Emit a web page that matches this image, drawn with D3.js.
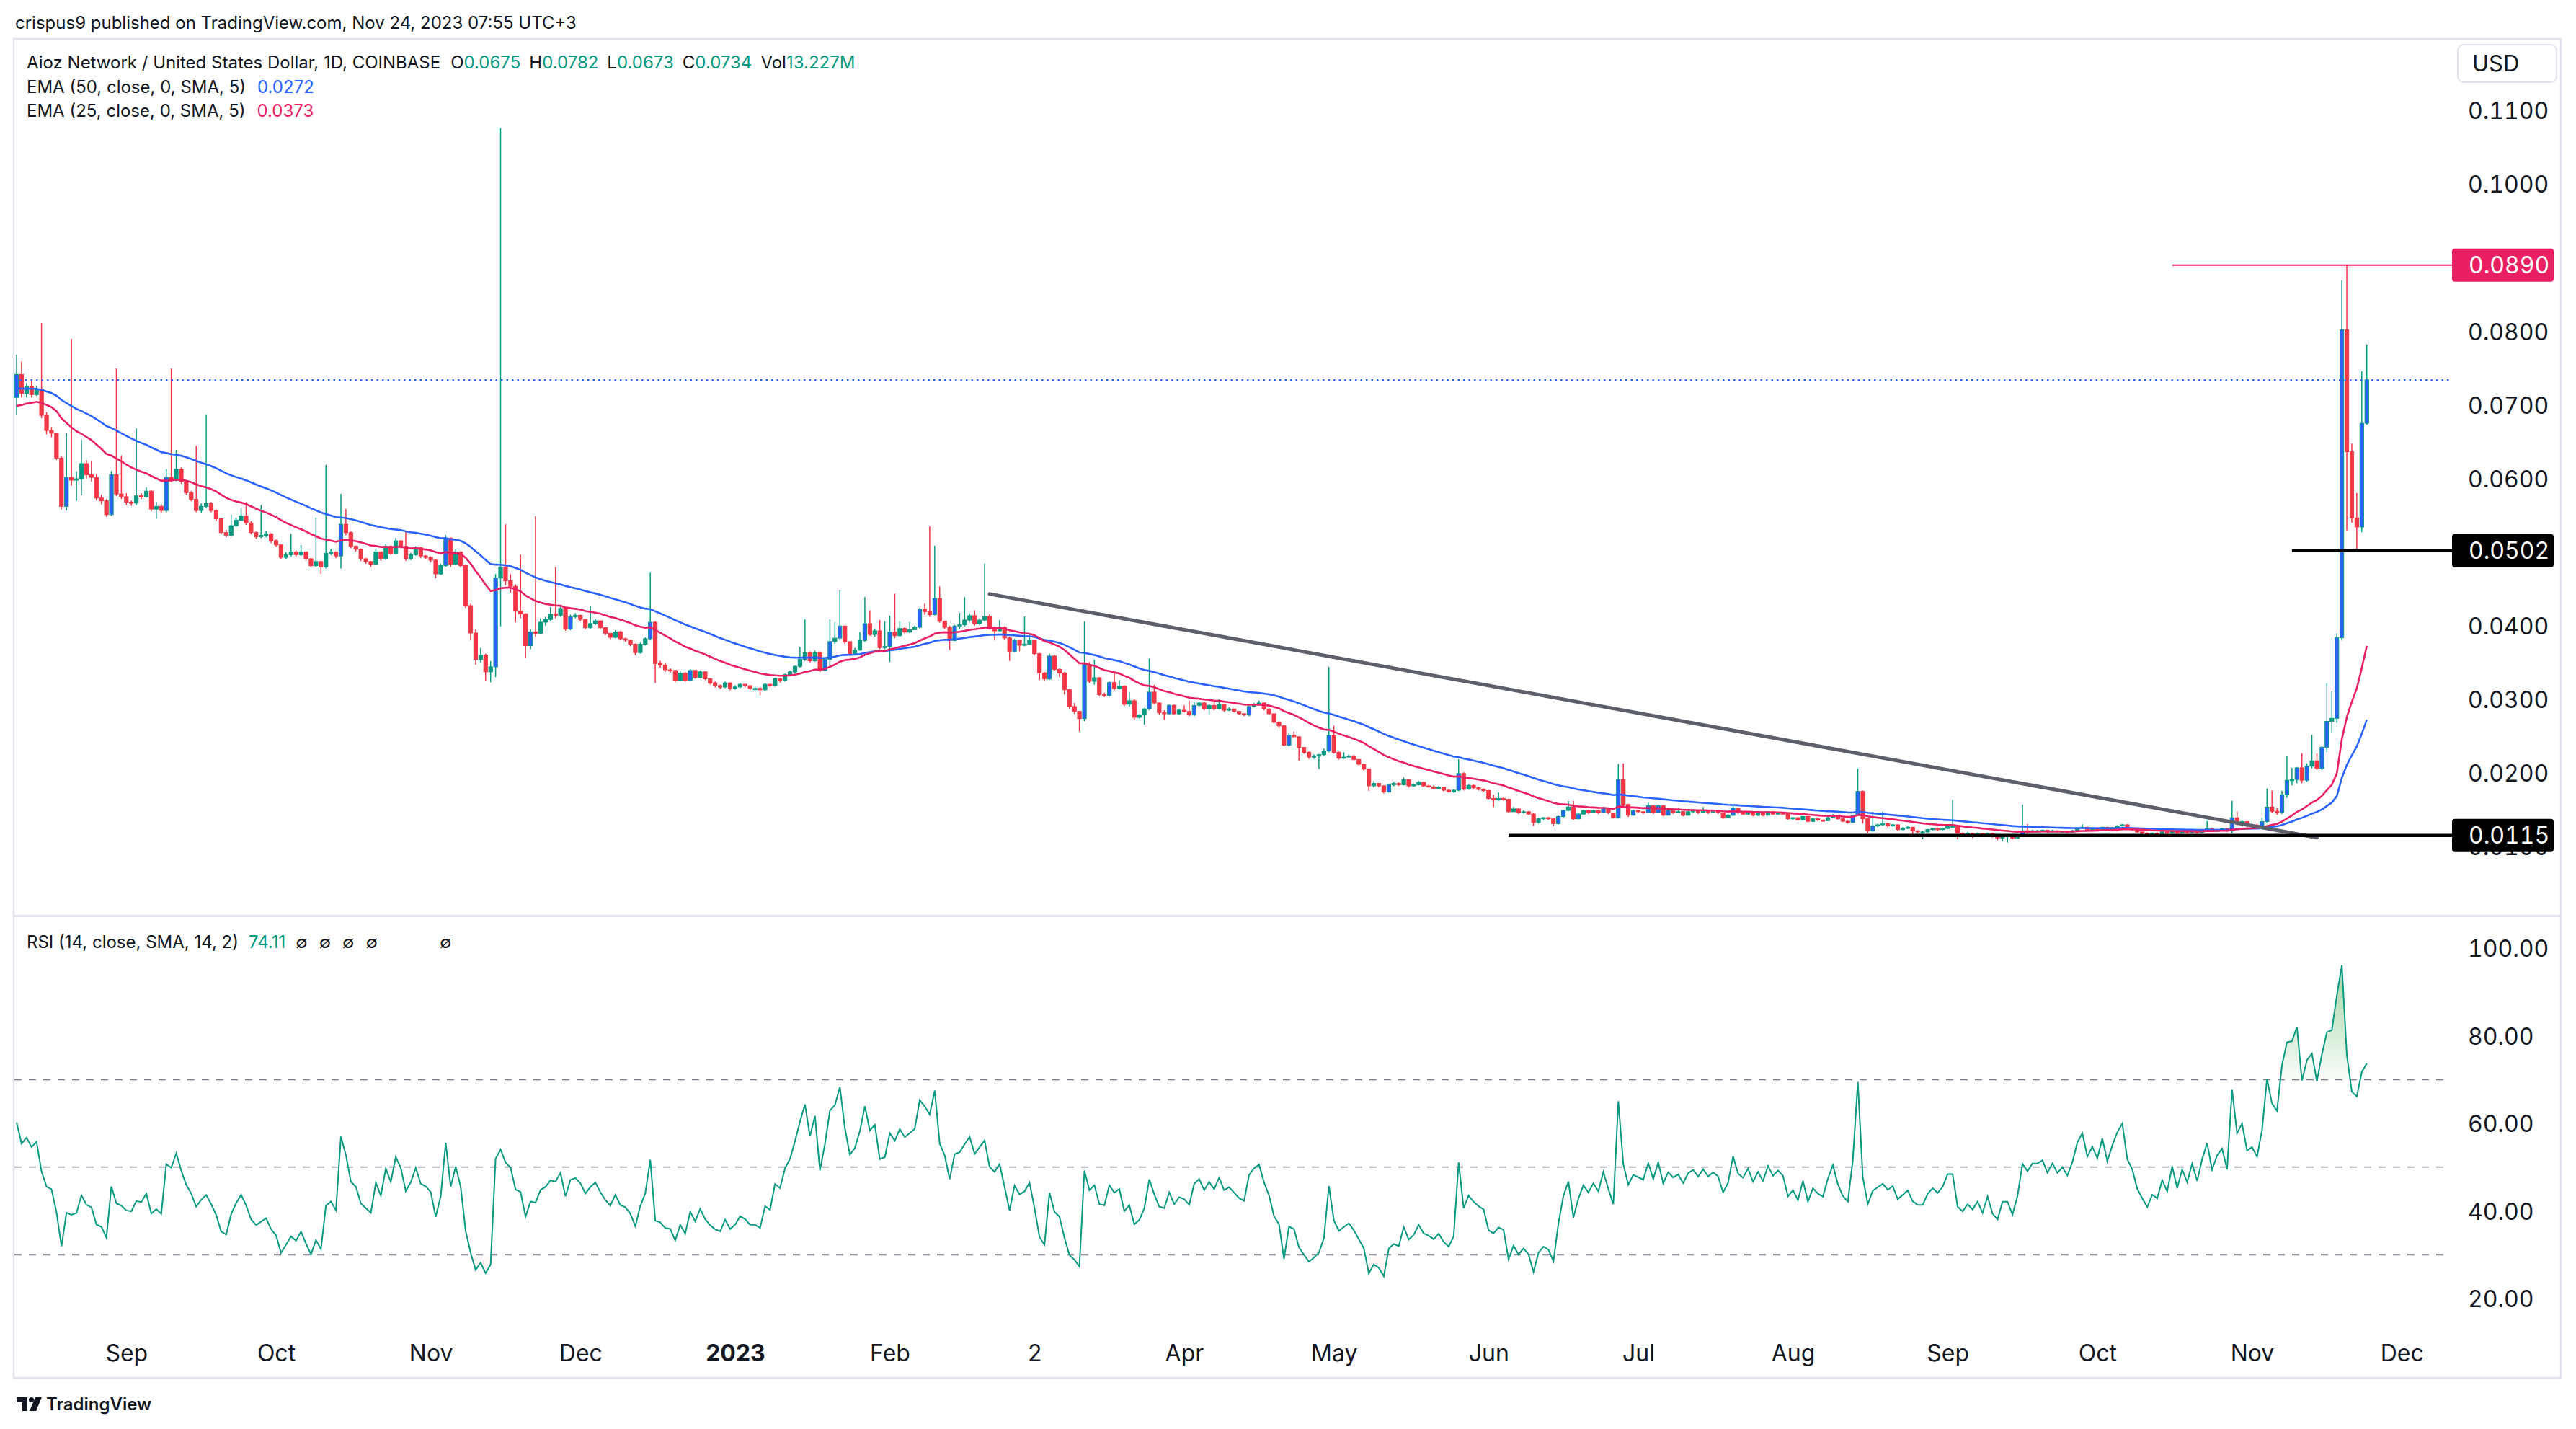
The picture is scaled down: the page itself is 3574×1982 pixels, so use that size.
<!DOCTYPE html>
<html><head><meta charset="utf-8">
<script src="https://cdn.jsdelivr.net/npm/d3@7"></script>
<style>html,body{margin:0;padding:0;background:#fff;}svg{display:block;}.tn{font-feature-settings:"tnum" 1;font-variant-numeric:tabular-nums;}</style>
</head><body>
<svg id="c" width="3574" height="1982"></svg>
<script>
// ===== DATA (prices in units of 0.00001 USD) =====
const startDate = "2022-08-10";
const firstOpen = 7102;
const closes = [7413,7158,7252,7140,7215,6858,6652,6615,6277,5621,
6015,5977,5996,6202,6052,6015,5734,5696,5509,6052,
5790,5752,5678,5666,5764,5752,5827,5584,5621,5565,
6015,5977,6127,5959,5809,5715,5565,5621,5659,5565,
5453,5265,5228,5359,5434,5490,5396,5265,5209,5228,
5246,5153,5097,4928,4965,5003,4965,5003,4909,4815,
4871,4797,4984,5003,4947,5378,5265,5078,5040,4909,
4871,4834,5003,4909,5078,4984,5153,5078,4909,4965,
5059,4947,4928,4890,4703,4815,5190,4834,5003,4815,
4272,3900,3541,3600,3372,3440,4647,4797,4609,4534,
4197,4159,3728,3916,3897,4047,4084,4159,4141,4234,
3953,4122,4141,4084,3972,4028,4065,3972,3897,3841,
3916,3822,3803,3747,3634,3747,3822,4047,3485,3466,
3400,3391,3259,3353,3259,3391,3297,3372,3278,3222,
3184,3166,3222,3147,3166,3203,3184,3147,3147,3128,
3203,3184,3278,3259,3334,3372,3447,3541,3634,3522,
3634,3391,3541,3784,3830,3995,3782,3619,3668,3799,
4027,3880,3930,3701,3717,3913,3864,3962,3913,3946,
3978,4223,4191,4150,4370,4060,3978,3799,3995,4011,
4076,4135,4027,4076,4125,3962,3930,3978,3832,3652,
3799,3733,3750,3799,3619,3358,3276,3587,3407,3358,
3129,2901,2835,2737,3472,3244,3293,3064,3050,3227,
3146,3178,2933,2980,2754,2786,2868,3097,2950,2819,
2803,2917,2803,2852,2835,2786,2917,2950,2868,2917,
2868,2933,2852,2868,2835,2803,2786,2901,2933,2950,
2868,2803,2688,2639,2378,2509,2490,2345,2280,2215,
2230,2247,2297,2509,2280,2198,2215,2231,2182,2117,
2051,1823,1856,1823,1741,1839,1856,1839,1905,1823,
1839,1872,1823,1810,1790,1805,1764,1740,1764,1991,
1780,1829,1797,1775,1760,1651,1634,1651,1640,1472,
1510,1456,1472,1440,1326,1375,1391,1375,1310,1407,
1490,1537,1375,1440,1488,1456,1488,1456,1521,1456,
1391,1910,1570,1424,1488,1472,1456,1553,1456,1553,
1424,1488,1456,1472,1424,1472,1488,1456,1488,1456,
1472,1456,1391,1424,1521,1456,1440,1472,1424,1456,
1424,1472,1440,1456,1440,1375,1391,1359,1407,1342,
1375,1359,1350,1391,1424,1375,1342,1326,1424,1748,
1375,1213,1278,1294,1310,1278,1294,1229,1245,1261,
1213,1197,1197,1229,1245,1229,1245,1278,1278,1180,
1164,1180,1164,1180,1148,1180,1132,1115,1148,1148,
1115,1148,1213,1197,1213,1213,1219,1197,1213,1197,
1206,1193,1213,1245,1261,1229,1245,1229,1261,1229,
1255,1278,1294,1245,1229,1197,1180,1164,1180,1174,
1197,1180,1213,1180,1206,1187,1213,1187,1219,1245,
1206,1229,1240,1210,1390,1310,1338,1281,1290,1270,
1338,1534,1478,1460,1702,1899,1910,2068,1900,2090,
2163,2060,2348,2700,2741,3836,8019,6363,5465,5341,
6750,7340];
const highs = [7683,7589,7300,7346,7260,8114,6900,6700,6620,6300,
6615,7897,6100,6529,6250,6240,6060,5780,5720,6100,
7496,6315,5800,5700,6679,5800,5880,5840,5680,5650,
6127,7496,6390,6150,5980,5830,6446,5660,6866,5680,
5580,5460,5300,5509,5470,5603,5678,5420,5280,5640,
5290,5260,5170,5090,5000,5246,5020,5097,5010,4920,
5471,4880,6184,5040,5010,5790,5584,5280,5090,5050,
4920,4880,5040,5010,5110,5090,5190,5160,5284,4990,
5080,5070,4960,4940,4900,4840,5230,5200,5040,5010,
4830,4300,3950,3700,3620,3520,4700,10760,5378,4700,
4560,4965,4170,3950,5490,4100,4120,4253,4797,4260,
4250,4150,4170,4150,4090,4272,4090,4070,3980,3900,
3940,3930,3840,3810,3760,3770,3840,4721,4060,3520,
3490,3420,3400,3380,3370,3410,3400,3390,3380,3290,
3240,3200,3240,3230,3190,3220,3210,3190,3170,3160,
3220,3210,3290,3290,3350,3390,3460,3709,4084,3650,
3660,3650,3560,4084,4044,4485,4000,3790,3700,3913,
4387,4207,3960,4076,4060,4135,4436,4060,3980,4044,
4000,4240,4300,5350,5089,4534,4070,4000,4010,4174,
4387,4160,4207,4100,4844,4158,3990,4076,3990,3850,
3820,3810,4125,3897,3810,3630,3370,3619,3600,3420,
3370,3140,2950,2840,4060,3505,3538,3300,3090,3240,
3374,3260,3190,3100,3000,2800,2880,3554,3195,2960,
2850,2930,2930,2870,2917,2982,2966,2970,2960,2930,
2982,2999,2940,2890,2870,2840,2810,2910,2950,2982,
2960,2880,2810,2700,2650,2541,2560,2500,2350,2290,
2250,2260,2330,3440,2640,2290,2280,2250,2240,2190,
2120,2060,1888,1860,1830,1850,1880,1870,1937,1910,
1850,1890,1880,1840,1830,1820,1800,1780,1775,2186,
2008,1850,1840,1810,1790,1770,1700,1732,1670,1650,
1537,1520,1490,1480,1450,1390,1400,1400,1380,1420,
1500,1618,1618,1450,1500,1495,1500,1495,1537,1525,
1460,2121,2128,1580,1500,1500,1480,1602,1560,1570,
1560,1500,1495,1490,1480,1480,1500,1495,1537,1500,
1490,1480,1460,1440,1570,1525,1465,1480,1475,1465,
1460,1480,1475,1465,1460,1445,1400,1395,1415,1410,
1385,1380,1365,1400,1440,1430,1380,1350,1430,2056,
1760,1380,1472,1310,1472,1320,1305,1300,1260,1275,
1265,1220,1215,1240,1255,1250,1255,1290,1634,1285,
1190,1195,1185,1190,1185,1190,1185,1140,1160,1160,
1155,1160,1570,1304,1225,1225,1230,1225,1225,1220,
1215,1210,1225,1260,1304,1270,1255,1261,1270,1265,
1265,1290,1304,1300,1255,1235,1200,1190,1190,1190,
1205,1200,1220,1215,1215,1210,1220,1215,1225,1342,
1250,1240,1250,1250,1620,1478,1350,1340,1310,1310,
1394,1787,1758,1520,1758,2235,2068,2080,2264,2130,
2517,2264,2360,3218,3106,3892,8693,8900,6475,5801,
7457,7820];
const lows = [6858,7100,7100,7100,7120,6820,6600,6560,6250,5580,
5565,5900,5696,5771,6000,5960,5700,5650,5480,5490,
5760,5720,5640,5630,5640,5720,5740,5550,5453,5530,
5540,5950,5960,5930,5780,5690,5540,5530,5600,5540,
5420,5240,5200,5210,5340,5420,5370,5240,5180,5190,
5200,5120,5070,4900,4900,4940,4940,4950,4880,4790,
4800,4703,4780,4960,4920,4778,5230,5050,5010,4880,
4840,4800,4820,4880,4890,4960,4970,5050,4880,4890,
4950,4920,4900,4860,4647,4690,4800,4800,4820,4790,
4240,3800,3470,3500,3250,3230,3300,3991,4550,4450,
4047,4100,3559,3680,3850,3880,4000,4060,4100,4120,
3930,3940,4100,4060,3950,3960,4010,3950,3870,3810,
3830,3800,3780,3720,3597,3620,3730,3800,3222,3430,
3370,3360,3230,3250,3240,3250,3280,3290,3260,3200,
3160,3140,3150,3120,3130,3150,3160,3120,3110,3053,
3110,3160,3170,3230,3240,3310,3350,3430,3520,3500,
3510,3370,3380,3450,3750,3800,3750,3603,3600,3660,
3780,3860,3850,3680,3680,3505,3830,3850,3890,3900,
3940,3960,4150,4120,4140,4040,3950,3668,3790,3960,
3990,4050,4000,4010,4060,3946,3799,3920,3810,3521,
3640,3652,3720,3740,3600,3260,3250,3260,3390,3300,
3064,2868,2800,2562,2700,3220,3200,3040,3030,3040,
3120,3130,2910,2900,2721,2740,2656,2850,2930,2790,
2720,2790,2790,2790,2820,2770,2770,2900,2850,2786,
2850,2860,2830,2840,2820,2790,2770,2770,2890,2920,
2850,2790,2670,2606,2360,2360,2470,2166,2260,2190,
2190,2052,2230,2280,2260,2180,2190,2200,2170,2100,
2030,1758,1800,1800,1720,1730,1820,1820,1830,1800,
1810,1830,1810,1800,1780,1780,1750,1730,1730,1750,
1760,1770,1780,1760,1740,1640,1537,1620,1620,1456,
1470,1440,1445,1430,1278,1310,1360,1360,1278,1300,
1390,1480,1360,1370,1430,1440,1450,1440,1450,1440,
1380,1380,1550,1400,1420,1460,1440,1450,1440,1450,
1410,1420,1440,1450,1410,1420,1460,1440,1450,1440,
1450,1440,1375,1380,1410,1440,1430,1435,1410,1415,
1410,1420,1430,1430,1430,1365,1360,1350,1350,1330,
1335,1345,1340,1345,1385,1365,1330,1310,1320,1420,
1310,1180,1200,1260,1280,1260,1270,1215,1220,1235,
1164,1180,1099,1190,1215,1215,1220,1235,1260,1099,
1140,1155,1115,1155,1135,1140,1120,1083,1067,1051,
1100,1105,1140,1180,1190,1195,1200,1185,1190,1185,
1190,1180,1190,1205,1240,1215,1220,1215,1225,1215,
1225,1245,1270,1230,1215,1185,1132,1150,1160,1160,
1165,1170,1175,1170,1175,1175,1180,1175,1180,1210,
1195,1200,1220,1195,1180,1280,1290,1260,1260,1250,
1260,1320,1450,1430,1440,1660,1830,1860,1860,1880,
2060,2040,2040,2280,2550,2680,3800,5296,5400,5027,
5268,6730];
// indicator state just before the first visible bar
const ema50Start = 7215, ema25Start = 6950;
const rsiAvgGainStart = 120, rsiAvgLossStart = 95;
// legend values as displayed
const volumeText = "13.227M";
const ema50Text = "0.0272", ema25Text = "0.0373", rsiText = "74.11";
// axes
const priceTicks = [0.01,0.02,0.03,0.04,0.05,0.06,0.07,0.08,0.10,0.11];
const rsiTicks = [20,40,60,80,100];
const rsiBands = [70,50,30];
const timeTickDates = ["2022-09-01","2022-10-01","2022-11-01","2022-12-01","2023-01-01","2023-02-01","2023-03-02","2023-04-01","2023-05-01","2023-06-01","2023-07-01","2023-08-01","2023-09-01","2023-10-01","2023-11-01","2023-12-01"];
const timeTickLabels = ["Sep","Oct","Nov","Dec","2023","Feb","2","Apr","May","Jun","Jul","Aug","Sep","Oct","Nov","Dec"];
// drawings
const levelValues = [0.0890, 0.0502, 0.0115];
const levelStarts = ["2023-10-16","2023-11-09","2023-06-05"];
const trendDates = ["2023-02-21","2023-11-14"];
const trendValues = [0.0443, 0.0112];

// ===== RENDER =====
const W = 3574, H = 1982;
const F = "Inter, 'Noto Sans', Roboto, sans-serif";
const DARK = "#131722", UP = "#089981", DOWN = "#f23645", BLUE = "#2962ff", PINK = "#e91e63";
const svg = d3.select("#c");
svg.append("rect").attr("width", W).attr("height", H).attr("fill", "#fff");
const U = 1e-5;
const parse = d3.utcParse("%Y-%m-%d");
const d0 = parse(startDate);
const dates = closes.map((_, i) => d3.utcDay.offset(d0, i));
const n = closes.length;
const x = d3.scaleUtc().domain([dates[0], dates[n - 1]]).range([23, 23 + (n - 1) * 6.923]);
const yP = d3.scaleLinear().domain([0.01, 0.11]).range([1174, 153.3]);
const yR = d3.scaleLinear().domain([20, 100]).range([1801, 1315]);
const PL = 20, PR = 3400;

const defs = svg.append("defs");
defs.append("clipPath").attr("id", "cp").append("rect").attr("x", PL).attr("y", 56).attr("width", PR - PL).attr("height", 1212);
defs.append("clipPath").attr("id", "cr").append("rect").attr("x", PL).attr("y", 1273).attr("width", PR - PL).attr("height", 570);
defs.append("clipPath").attr("id", "ob").append("rect").attr("x", PL).attr("y", 1273).attr("width", PR - PL).attr("height", yR(70) - 1273);
defs.append("clipPath").attr("id", "os").append("rect").attr("x", PL).attr("y", yR(30)).attr("width", PR - PL).attr("height", 1843 - yR(30));
const gOB = defs.append("linearGradient").attr("id", "gob").attr("gradientUnits", "userSpaceOnUse").attr("x1", 0).attr("x2", 0).attr("y1", yR(100)).attr("y2", yR(70));
gOB.append("stop").attr("offset", 0).attr("stop-color", "rgb(76,175,80)").attr("stop-opacity", 0.6);
gOB.append("stop").attr("offset", 1).attr("stop-color", "rgb(76,175,80)").attr("stop-opacity", 0.03);
const gOS = defs.append("linearGradient").attr("id", "gos").attr("gradientUnits", "userSpaceOnUse").attr("x1", 0).attr("x2", 0).attr("y1", yR(30)).attr("y2", yR(0));
gOS.append("stop").attr("offset", 0).attr("stop-color", "rgb(255,82,82)").attr("stop-opacity", 0.02);
gOS.append("stop").attr("offset", 1).attr("stop-color", "rgb(255,82,82)").attr("stop-opacity", 0.6);

// frame
svg.append("rect").attr("x", 19).attr("y", 54).attr("width", 3534).attr("height", 1857).attr("fill", "none").attr("stroke", "#e0e3eb").attr("stroke-width", 2.5);
svg.append("line").attr("x1", 19).attr("x2", 3553).attr("y1", 1270.5).attr("y2", 1270.5).attr("stroke", "#e0e3eb").attr("stroke-width", 3);

// header
svg.append("text").attr("x", 21).attr("y", 40).attr("font-family", F).attr("font-size", 24).attr("fill", DARK)
  .text("crispus9 published on TradingView.com, Nov 24, 2023 07:55 UTC+3");

// candles
const bars = closes.map((c, i) => {
  const o = i === 0 ? firstOpen : closes[i - 1];
  return { d: dates[i], o: o * U, c: c * U, h: Math.max(highs[i], o, c) * U, l: Math.min(lows[i], o, c) * U };
});
const gP = svg.append("g").attr("clip-path", "url(#cp)");
const cg = gP.append("g").selectAll("g").data(bars).join("g");
cg.append("line").attr("x1", d => x(d.d)).attr("x2", d => x(d.d)).attr("y1", d => yP(d.h)).attr("y2", d => yP(d.l))
  .attr("stroke", d => d.c >= d.o ? UP : DOWN).attr("stroke-width", 1.5);
cg.append("rect").attr("x", d => x(d.d) - 2.6).attr("width", 5.2)
  .attr("y", d => yP(Math.max(d.o, d.c)))
  .attr("height", d => Math.max(1.6, Math.abs(yP(d.o) - yP(d.c))))
  .attr("fill", d => d.c >= d.o ? ((d.c - d.o) / d.o >= 0.04 ? BLUE : UP) : DOWN)
  .attr("stroke", d => d.c >= d.o ? UP : DOWN).attr("stroke-width", 1);

// EMAs
function ema(period, seed) { const a = 2 / (period + 1); let e = seed; return closes.map(c => (e = e + a * (c - e)) * U); }
const e50 = ema(50, ema50Start), e25 = ema(25, ema25Start);
const lineP = d3.line().x((d, i) => x(dates[i])).y(d => yP(d));
gP.append("path").attr("d", lineP(e50)).attr("fill", "none").attr("stroke", BLUE).attr("stroke-width", 2.6);
gP.append("path").attr("d", lineP(e25)).attr("fill", "none").attr("stroke", PINK).attr("stroke-width", 2.6);

// trend line
gP.append("line").attr("x1", x(parse(trendDates[0]))).attr("y1", yP(trendValues[0])).attr("x2", x(parse(trendDates[1]))).attr("y2", yP(trendValues[1]))
  .attr("stroke", "#5d606b").attr("stroke-width", 5).attr("stroke-linecap", "round");

// current price line
const last = closes[n - 1] * U;
gP.append("line").attr("x1", PL).attr("x2", PR).attr("y1", yP(last)).attr("y2", yP(last))
  .attr("stroke", BLUE).attr("stroke-width", 2).attr("stroke-dasharray", "2.5 5");

// level lines
const levelColor = [PINK, "#000", "#000"], levelW = [2, 4.5, 4.5];
levelValues.forEach((v, k) => {
  svg.append("line").attr("x1", x(parse(levelStarts[k]))).attr("x2", PR + 2).attr("y1", yP(v)).attr("y2", yP(v))
    .attr("stroke", levelColor[k]).attr("stroke-width", levelW[k]);
});

// price axis
const pa = svg.append("g").attr("transform", "translate(3424,0)")
  .call(d3.axisRight(yP).tickValues(priceTicks).tickFormat(d3.format(".4f")).tickSize(0).tickPadding(0));
pa.select(".domain").remove();
pa.selectAll("text").attr("class", "tn").attr("font-family", F).attr("font-size", 32).attr("fill", DARK).attr("dy", "0.36em");

// level labels
levelValues.forEach((v, k) => {
  svg.append("rect").attr("x", 3402).attr("y", yP(v) - 23).attr("width", 141).attr("height", 46).attr("rx", 4).attr("fill", levelColor[k]);
  svg.append("text").attr("class", "tn").attr("x", 3425).attr("y", yP(v)).attr("dy", "0.36em").attr("font-family", F).attr("font-size", 32).attr("fill", "#fff").text(d3.format(".4f")(v));
});

// USD box
svg.append("rect").attr("x", 3410).attr("y", 62).attr("width", 137).attr("height", 52).attr("rx", 8).attr("fill", "#fff").attr("stroke", "#e0e3eb").attr("stroke-width", 2);
svg.append("text").attr("x", 3430).attr("y", 88).attr("dy", "0.36em").attr("font-family", F).attr("font-size", 31).attr("fill", DARK).text("USD");

// legends
function runText(x0, y0, parts, size) {
  let cx = x0;
  parts.forEach(p => {
    cx += p.gap || 0;
    const t = svg.append("text").attr("x", cx).attr("y", y0).attr("font-family", F).attr("font-size", size).attr("fill", p.c).text(p.t);
    cx += t.node().getComputedTextLength();
  });
}
const fmt4 = d3.format(".4f");
const lb = bars[n - 1];
runText(37, 95, [
  { t: "Aioz Network / United States Dollar, 1D, COINBASE", c: DARK },
  { t: "O", c: DARK, gap: 14 }, { t: fmt4(lb.o), c: UP },
  { t: "H", c: DARK, gap: 12 }, { t: fmt4(lb.h), c: UP },
  { t: "L", c: DARK, gap: 12 }, { t: fmt4(lb.l), c: UP },
  { t: "C", c: DARK, gap: 12 }, { t: fmt4(lb.c), c: UP },
  { t: "Vol", c: DARK, gap: 12 }, { t: volumeText, c: UP }], 24);
runText(37, 129, [{ t: "EMA (50, close, 0, SMA, 5)", c: DARK }, { t: ema50Text, c: BLUE, gap: 16 }], 24);
runText(37, 161.5, [{ t: "EMA (25, close, 0, SMA, 5)", c: DARK }, { t: ema25Text, c: PINK, gap: 16 }], 24);
runText(37, 1314.5, [{ t: "RSI (14, close, SMA, 14, 2)", c: DARK }, { t: rsiText, c: UP, gap: 14 },
  { t: "∅", c: DARK, gap: 14 }, { t: "∅", c: DARK, gap: 16 }, { t: "∅", c: DARK, gap: 16 }, { t: "∅", c: DARK, gap: 16 },
  { t: "∅", c: DARK, gap: 86 }], 24);

// RSI
let ag = rsiAvgGainStart, al = rsiAvgLossStart, prev = firstOpen;
const rsi = closes.map(c => { const ch = c - prev; prev = c; ag = (ag * 13 + Math.max(ch, 0)) / 14; al = (al * 13 + Math.max(-ch, 0)) / 14; return 100 - 100 / (1 + ag / al); });
const gR = svg.append("g").attr("clip-path", "url(#cr)");
rsiBands.forEach(b => {
  gR.append("line").attr("x1", PL).attr("x2", PR).attr("y1", yR(b)).attr("y2", yR(b))
    .attr("stroke", b === 50 ? "#b2b5be" : "#787b86").attr("stroke-width", 2).attr("stroke-dasharray", "10 10");
});
const areaOB = d3.area().x((d, i) => x(dates[i])).y0(yR(70)).y1(d => yR(d));
gR.append("path").attr("clip-path", "url(#ob)").attr("d", areaOB(rsi)).attr("fill", "url(#gob)");
const areaOS = d3.area().x((d, i) => x(dates[i])).y0(yR(30)).y1(d => yR(d));
gR.append("path").attr("clip-path", "url(#os)").attr("d", areaOS(rsi)).attr("fill", "url(#gos)");
gR.append("path").attr("d", d3.line().x((d, i) => x(dates[i])).y(d => yR(d))(rsi)).attr("fill", "none").attr("stroke", UP).attr("stroke-width", 2);

const ra = svg.append("g").attr("transform", "translate(3424,0)")
  .call(d3.axisRight(yR).tickValues(rsiTicks).tickFormat(d3.format(".2f")).tickSize(0).tickPadding(0));
ra.select(".domain").remove();
ra.selectAll("text").attr("class", "tn").attr("font-family", F).attr("font-size", 32).attr("fill", DARK).attr("dy", "0.36em");

// time axis
const tickD = timeTickDates.map(parse);
const ta = svg.append("g").attr("transform", "translate(0,1876)")
  .call(d3.axisBottom(x).tickValues(tickD).tickFormat((d, i) => timeTickLabels[i]).tickSize(0).tickPadding(0));
ta.select(".domain").remove();
ta.selectAll("text").attr("y", 0).attr("dy", "0.36em").attr("font-family", F).attr("font-size", 32).attr("fill", DARK)
  .attr("font-weight", (d, i) => timeTickLabels[i] === "2023" ? 700 : 400);

// footer logo
svg.append("path").attr("d", "M23,1938 H38 V1957 H31 V1945 H23 Z").attr("fill", DARK);
svg.append("circle").attr("cx", 43.5).attr("cy", 1941.5).attr("r", 3.6).attr("fill", DARK);
svg.append("path").attr("d", "M49,1938 H58 L50,1957 H41 Z").attr("fill", DARK);
svg.append("text").attr("x", 64).attr("y", 1956).attr("font-family", F).attr("font-size", 24).attr("font-weight", 600).attr("fill", DARK).text("TradingView");
</script>
</body></html>
